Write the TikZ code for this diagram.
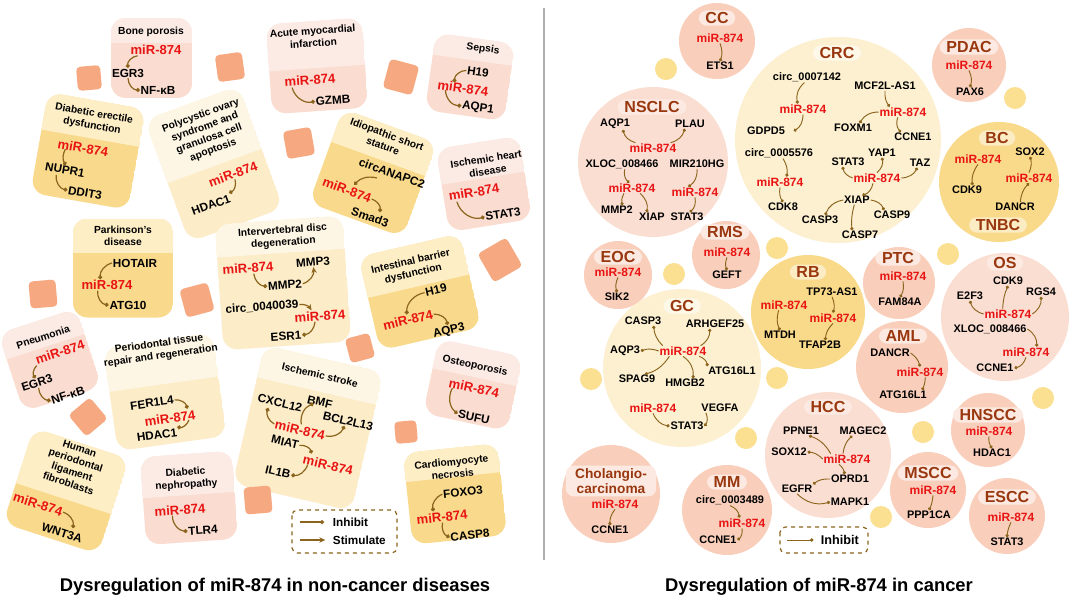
\documentclass[tikz,border=0pt]{standalone}
\usepackage{fontspec}
\setmainfont{Liberation Sans}
\usetikzlibrary{arrows.meta}

\definecolor{mirred}{RGB}{232,20,20}
\definecolor{arrowc}{RGB}{139,101,30}
\definecolor{pinktop}{RGB}{252,235,229}
\definecolor{pinkbot}{RGB}{250,221,208}
\definecolor{ltyeltop}{RGB}{254,246,228}
\definecolor{ltyelbot}{RGB}{252,236,200}
\definecolor{dkyeltop}{RGB}{253,238,198}
\definecolor{dkyelbot}{RGB}{249,218,140}
\definecolor{sqorange}{RGB}{246,168,128}
\definecolor{cpink}{RGB}{249,207,187}
\definecolor{cpinklt}{RGB}{251,222,210}
\definecolor{cyellt}{RGB}{253,240,208}
\definecolor{cyeldk}{RGB}{249,217,138}
\definecolor{dotyel}{RGB}{251,224,145}
\definecolor{titlebrown}{RGB}{153,55,15}
\definecolor{pillpink}{RGB}{252,234,226}
\definecolor{pillyel}{RGB}{254,248,232}
\definecolor{pilldk}{RGB}{252,236,196}
\definecolor{divgray}{RGB}{175,175,175}

\tikzset{
  mir/.style={text=mirred,font=\bfseries\fontsize{9.8}{11}\selectfont,inner sep=0.5pt},
  gene/.style={font=\bfseries\fontsize{8.8}{10}\selectfont,inner sep=0.5pt},
  ttl/.style={font=\bfseries\fontsize{7.7}{9.2}\selectfont,align=center,inner sep=0.5pt},
  cmir/.style={text=mirred,font=\bfseries\fontsize{9}{10}\selectfont,inner sep=0.5pt},
  cgene/.style={font=\bfseries\fontsize{8.2}{9.5}\selectfont,inner sep=0.5pt},
  ctitle/.style={text=titlebrown,font=\bfseries\fontsize{12}{11.5}\selectfont,rounded corners=6pt,inner xsep=5pt,inner ysep=1.5pt,align=center},
  inh/.style={draw=arrowc,line width=0.9pt,-{Circle[length=3pt]}},
  stim/.style={draw=arrowc,line width=0.9pt,-{Stealth[length=4.5pt,width=4pt]}},
  cinh/.style={draw=arrowc,line width=0.7pt,-{Circle[length=2.4pt]}},
  sqbox/.style={fill=sqorange,rounded corners=3pt},
  legbox/.style={draw=arrowc,dashed,line width=0.9pt,rounded corners=4pt},
  legtxt/.style={font=\bfseries\fontsize{8.8}{10}\selectfont,inner sep=0.5pt},
  bigtitle/.style={font=\bfseries\fontsize{13.8}{16}\selectfont}
}

% card: centre x, centre y, angle, width, height, split, top colour, bottom colour
\newcommand{\card}[8]{%
  \begin{scope}[shift={(#1,#2)},rotate=#3]
    \clip[rounded corners=11pt] (-#4/2,-#5/2) rectangle (#4/2,#5/2);
    \fill[#8] (-#4/2,-#5/2) rectangle (#4/2,#5/2);
    \fill[#7] (-#4/2,-#5/2) rectangle (#4/2,#6);
  \end{scope}}

\begin{document}
\begin{tikzpicture}[x=0.75pt,y=-0.75pt]
\useasboundingbox (0,0) rectangle (1072,601);
\fill[white] (0,0) rectangle (1072,601);

% divider
\draw[divgray,line width=0.8pt] (544,8) -- (544,560);

% ===== non-cancer cards
\card{151.5}{58}{0}{81}{80}{-15}{pinktop}{pinkbot}
\card{317}{66}{4}{96}{90}{2}{pinktop}{pinkbot}
\card{470}{77}{-8}{80}{78}{-17}{pinktop}{pinkbot}
\card{88}{151}{-10}{99}{102}{-13}{dkyeltop}{dkyelbot}
\card{214}{164}{20}{100}{130}{2}{ltyeltop}{ltyelbot}
\card{373}{173}{-20}{100}{100}{-15}{dkyeltop}{dkyelbot}
\card{484}{184}{9}{84}{84}{-6}{pinktop}{pinkbot}
\card{123}{268}{0}{100}{99}{-15}{dkyeltop}{dkyelbot}
\card{283}{283}{4}{128}{126}{-30}{ltyeltop}{ltyelbot}
\card{420}{292}{13}{104}{96}{-6}{dkyeltop}{dkyelbot}
\card{50}{360}{18}{82}{82}{-14}{pinktop}{pinkbot}
\card{165}{392}{8}{110}{104}{-8}{ltyeltop}{ltyelbot}
\card{308}{428}{-13}{122}{142}{-38}{ltyeltop}{ltyelbot}
\card{473}{385}{-12}{86}{76}{-8}{pinktop}{pinkbot}
\card{66}{491}{-18}{100}{100}{8}{dkyeltop}{dkyelbot}
\card{189}{498}{4}{92}{88}{-3}{pinktop}{pinkbot}
\card{455}{494}{6}{95}{92}{-17}{dkyeltop}{dkyelbot}

% orange squares
\foreach \x/\y/\s/\a in {89/78/24/5, 230/67/27/8, 299/143/28/10, 401/77/30/-15,
    43/294/27/5, 197/300/29/15, 500/260/33/30, 360/348/25/15, 88/417/28/40,
    258/500/27/5, 406/432/22/5}
  \fill[sqbox,shift={(\x,\y)},rotate=\a] (-\s/2,-\s/2) rectangle (\s/2,\s/2);

% Bone porosis
\node[ttl] (bpt) at (151,32) {Bone porosis};
\node[mir] (bpm) at (156,50) {miR-874};
\node[gene] (bpe) at (128,73) {EGR3};
\node[gene] (bpn) at (158,90) {NF-κB};
\draw[inh] ([xshift=6pt]bpm.south west) to[bend right=45] (bpe.north);
\draw[inh] (bpe.south) to[bend right=45] (bpn.west);

% Acute myocardial infarction
\begin{scope}[every node/.append style={rotate=4}]
\node[ttl] (amt) at (313,37) {Acute myocardial\\infarction};
\node[mir] (amm) at (310,80) {miR-874};
\node[gene] (amg) at (333,100) {GZMB};
\end{scope}
\draw[inh] ([xshift=6pt]amm.south west) to[bend right=45] (amg.west);

% Sepsis
\begin{scope}[every node/.append style={rotate=-8}]
\node[ttl] (set) at (483,49) {Sepsis};
\node[gene] (seh) at (478,72) {H19};
\node[mir] (sem) at (463,88) {miR-874};
\node[gene] (sea) at (478,108) {AQP1};
\end{scope}
\draw[inh] (seh.west) to[bend right=45] ([xshift=-7pt]sem.north);
\draw[inh] ([xshift=7pt]sem.south west) to[bend right=45] (sea.west);

% Diabetic erectile dysfunction
\begin{scope}[every node/.append style={rotate=-10}]
\node[ttl] (det) at (93,120) {Diabetic erectile\\dysfunction};
\node[mir] (dem) at (83,148) {miR-874};
\node[gene] (den) at (65,170) {NUPR1};
\node[gene] (ded) at (85,193) {DDIT3};
\end{scope}
\draw[inh] ([xshift=7pt]dem.south west) to[bend right=30] (den.north);
\draw[inh] ([xshift=-6pt]den.south) to[bend right=45] (ded.west);

% Polycystic ovary syndrome
\begin{scope}[every node/.append style={rotate=20}]
\node[ttl] (pct) at (207,133) {Polycystic ovary\\syndrome and\\granulosa cell\\apoptosis};
\node[mir] (pcm) at (233,174) {miR-874};
\node[gene] (pch) at (211,205) {HDAC1};
\end{scope}
\draw[inh] (pcm.south) to[bend left=40] (pch.north east);

% Idiopathic short stature
\begin{scope}[every node/.append style={rotate=-20}]
\node[ttl] (ist) at (385,140) {Idiopathic short\\stature};
\node[gene] (isc) at (392,173) {circANAPC2};
\node[mir] (ism) at (347,190) {miR-874};
\node[gene] (iss) at (370,217) {Smad3};
\end{scope}
\draw[inh] ([xshift=-10pt]isc.south) to[bend right=30] ([xshift=4pt]ism.north);
\draw[inh] (ism.east) to[bend left=40] ([xshift=6pt]iss.north);

% Ischemic heart disease
\begin{scope}[every node/.append style={rotate=9}]
\node[ttl] (iht) at (487,165) {Ischemic heart\\disease};
\node[mir] (ihm) at (474,192) {miR-874};
\node[gene] (ihs) at (503,214) {STAT3};
\end{scope}
\draw[inh] ([xshift=6pt]ihm.south west) to[bend right=45] (ihs.west);

% Parkinson's disease
\node[ttl] (pdt) at (123,236) {Parkinson's\\disease};
\node[gene] (pdh) at (135,263) {HOTAIR};
\node[mir] (pdm) at (107,285) {miR-874};
\node[gene] (pda) at (128,305) {ATG10};
\draw[inh] (pdh.west) to[bend right=40] ([xshift=-5pt]pdm.north);
\draw[inh] ([xshift=-7pt]pdm.south) to[bend right=45] (pda.west);

% Intervertebral disc degeneration
\begin{scope}[every node/.append style={rotate=4}]
\node[ttl] (ivt) at (283,237) {Intervertebral disc\\degeneration};
\node[mir] (ivm) at (248,268) {miR-874};
\node[gene] (ivp3) at (313,262) {MMP3};
\node[gene] (ivp2) at (285,285) {MMP2};
\node[gene] (ivc) at (262,307) {circ\_0040039};
\node[mir] (ivn) at (320,316) {miR-874};
\node[gene] (ive) at (286,336) {ESR1};
\end{scope}
\draw[inh] ([xshift=4pt]ivm.south) to[bend right=40] (ivp2.west);
\draw[stim] (ivp2.east) to[bend right=40] (ivp3.south);
\draw[stim] (ivc.east) to[bend left=30] ([xshift=-6pt]ivn.north);
\draw[inh] ([xshift=-4pt]ivn.south) to[bend left=40] (ive.east);

% Intestinal barrier dysfunction
\begin{scope}[every node/.append style={rotate=13}]
\node[ttl] (ibt) at (412,268) {Intestinal barrier\\dysfunction};
\node[gene] (ibh) at (436,290) {H19};
\node[mir] (ibm) at (408,320) {miR-874};
\node[gene] (iba) at (449,331) {AQP3};
\end{scope}
\draw[inh] (ibh.west) to[bend right=40] (ibm.north);
\draw[inh] (ibm.east) to[bend left=40] (iba.north);

% Pneumonia
\begin{scope}[every node/.append style={rotate=18}]
\node[ttl] (pnt) at (43,337) {Pneumonia};
\node[mir] (pnm) at (60,352) {miR-874};
\node[gene] (pne) at (37,383) {EGR3};
\node[gene] (pnn) at (68,395) {NF-κB};
\end{scope}
\draw[inh] (pnm.south west) to[bend right=40] (pne.north);
\draw[inh] (pne.south) to[bend right=40] (pnn.west);

% Periodontal tissue repair and regeneration
\begin{scope}[every node/.append style={rotate=8}]
\node[ttl] (prt) at (160,350) {Periodontal tissue\\repair and regeneration};
\node[gene] (prf) at (152,403) {FER1L4};
\node[mir] (prm) at (170,418) {miR-874};
\node[gene] (prh) at (157,435) {HDAC1};
\end{scope}
\draw[inh] (prf.east) to[bend left=40] ([xshift=-6pt]prm.north east);
\draw[inh] ([xshift=-6pt]prm.south east) to[bend left=40] (prh.north east);

% Ischemic stroke
\begin{scope}[every node/.append style={rotate=-13}]
\node[ttl] (sst) at (320,375) {Ischemic stroke};
\node[gene] (ssc) at (280,403) {CXCL12};
\node[gene] (ssb) at (320,402) {BMF};
\node[gene] (ssl) at (348,421) {BCL2L13};
\node[mir] (ssm) at (300,430) {miR-874};
\node[gene] (ssa) at (285,442) {MIAT};
\node[mir] (ssn) at (328,465) {miR-874};
\node[gene] (ssi) at (278,472) {IL1B};
\end{scope}
\draw[inh] (ssm.west) to[bend left=40] ([xshift=-8pt]ssc.south);
\draw[inh] (ssm.north) to[bend left=40] ([xshift=6pt]ssb.south west);
\draw[inh] (ssm.east) to[bend right=40] ([xshift=-2pt]ssl.south);
\draw[inh] (ssa.east) to[bend left=40] ([xshift=6pt]ssn.north west);
\draw[inh] ([xshift=5pt]ssn.south west) to[bend left=40] (ssi.east);

% Osteoporosis
\begin{scope}[every node/.append style={rotate=-12}]
\node[ttl] (opt) at (475,366) {Osteoporosis};
\node[mir] (opm) at (474,388) {miR-874};
\node[gene] (ops) at (474,417) {SUFU};
\end{scope}
\draw[inh] ([xshift=4pt]opm.south west) to[bend right=40] (ops.west);

% Human periodontal ligament fibroblasts
\begin{scope}[every node/.append style={rotate=-18}]
\node[ttl] (hpt) at (74,466) {Human\\periodontal\\ligament\\fibroblasts};
\node[mir] (hpm) at (38,504) {miR-874};
\node[gene] (hpw) at (62,533) {WNT3A};
\end{scope}
\draw[inh] (hpm.east) to[bend left=40] ([xshift=7pt]hpw.north);

% Diabetic nephropathy
\begin{scope}[every node/.append style={rotate=4}]
\node[ttl] (dnt) at (186,479) {Diabetic\\nephropathy};
\node[mir] (dnm) at (180,510) {miR-874};
\node[gene] (dnr) at (203,530) {TLR4};
\end{scope}
\draw[inh] ([xshift=-6pt]dnm.south) to[bend right=45] (dnr.west);

% Cardiomyocyte necrosis
\begin{scope}[every node/.append style={rotate=6}]
\node[ttl] (cmt) at (452,468) {Cardiomyocyte\\necrosis};
\node[gene] (cmf) at (463,492) {FOXO3};
\node[mir] (cmm) at (442,517) {miR-874};
\node[gene] (cmc) at (470,535) {CASP8};
\end{scope}
\draw[inh] (cmf.west) to[bend right=40] ([xshift=-6pt]cmm.north);
\draw[inh] (cmm.south) to[bend right=40] (cmc.west);

% legend (left)
\draw[legbox] (292,510) rectangle (397,553);
\node[legtxt,anchor=west] (lgi) at (332,522) {Inhibit};
\node[legtxt,anchor=west] (lgs) at (332,540) {Stimulate};
\coordinate (lgia) at (300,522);
\coordinate (lgsa) at (300,540);
\draw[inh] (lgia) -- ([xshift=-6pt]lgi.west);
\draw[stim] (lgsa) -- ([xshift=-5pt]lgs.west);

\node[bigtitle] (ltitle) at (275,587) {Dysregulation of miR-874 in non-cancer diseases};

% ===== cancer circles
\fill[cpink] (717,41) circle (38);
\fill[cpinklt] (653,162) circle (75);
\fill[cyellt] (838,140) circle (103);
\fill[cpink] (969,65) circle (37);
\fill[cyeldk] (999,182) circle (60);
\fill[cpink] (726,255) circle (34);
\fill[cpink] (618,275) circle (34);
\fill[cyellt] (682,368) circle (79);
\fill[cyeldk] (808,312) circle (57);
\fill[cpink] (899,283) circle (36);
\fill[cpinklt] (1005,317) circle (64);
\fill[cpink] (902,367) circle (46);
\fill[cpinklt] (828,455) circle (63);
\fill[cpink] (727,510) circle (45);
\fill[cpink] (611,494) circle (49);
\fill[cpink] (988,430) circle (37);
\fill[cpink] (928,490) circle (38);
\fill[cpink] (1007,516) circle (38);
\foreach \x/\y in {666/69, 1015/98, 777/248, 674/274, 591/379, 777/378,
    746/438, 948/254, 1043/398, 923/432, 881/517}
  \fill[dotyel] (\x,\y) circle (11);

% CC
\node[ctitle,fill=pillpink] (cct) at (717,18) {CC};
\node[cmir] (ccm) at (720,38) {miR-874};
\node[cgene] (cce) at (720,66) {ETS1};
\draw[cinh] (ccm.south) to[bend left=20] (cce.north);

% NSCLC
\node[ctitle,fill=pillpink] (nst) at (652,107) {NSCLC};
\node[cgene] (nsaqp) at (615,124) {AQP1};
\node[cgene] (nsplau) at (690,124) {PLAU};
\node[cmir] (nsm) at (653,148) {miR-874};
\node[cgene] (nsx) at (622,164) {XLOC\_008466};
\node[cgene] (nsh) at (697,164) {MIR210HG};
\node[cmir] (nsm1) at (632,188) {miR-874};
\node[cmir] (nsm2) at (695,192) {miR-874};
\node[cgene] (nsmmp) at (617,210) {MMP2};
\node[cgene] (nsxiap) at (652,217) {XIAP};
\node[cgene] (nss) at (687,217) {STAT3};
\draw[cinh] ([xshift=5pt]nsm.north west) to[bend left=30] ([xshift=6pt]nsaqp.south);
\draw[cinh] ([xshift=-5pt]nsm.north east) to[bend right=30] ([xshift=-4pt]nsplau.south);
\draw[cinh] ([xshift=2pt]nsx.south) to[bend right=30] ([xshift=-2pt]nsm1.north);
\draw[cinh] (nsh.south) to[bend left=30] ([xshift=-5pt]nsm2.north);
\draw[cinh] ([xshift=-6pt]nsm1.south) to[bend right=20] ([xshift=4pt]nsmmp.north);
\draw[cinh] ([xshift=6pt]nsm1.south) to[bend left=30] ([xshift=-4pt]nsxiap.north);
\draw[cinh] (nsm2.south) to[bend left=30] ([xshift=2pt]nss.north);

% CRC
\node[ctitle,fill=pillyel] (crt) at (837,53) {CRC};
\node[cgene] (crc1) at (807,77) {circ\_0007142};
\node[cgene] (crmcf) at (885,86) {MCF2L-AS1};
\node[cmir] (crm1) at (803,109) {miR-874};
\node[cmir] (crm2) at (903,112) {miR-874};
\node[cgene] (crg) at (766,131) {GDPD5};
\node[cgene] (crf) at (853,128) {FOXM1};
\node[cgene] (crcc) at (913,137) {CCNE1};
\node[cgene] (crc2) at (779,153) {circ\_0005576};
\node[cmir] (crm3) at (780,182) {miR-874};
\node[cgene] (crk) at (783,207) {CDK8};
\node[cgene] (crs) at (848,162) {STAT3};
\node[cgene] (cry) at (882,153) {YAP1};
\node[cgene] (crtaz) at (920,163) {TAZ};
\node[cmir] (crm4) at (877,178) {miR-874};
\node[cgene] (crx) at (857,200) {XIAP};
\node[cgene] (crp3) at (820,220) {CASP3};
\node[cgene] (crp9) at (892,215) {CASP9};
\node[cgene] (crp7) at (860,235) {CASP7};
\draw[cinh] ([xshift=-2pt]crc1.south) to[bend right=30] ([xshift=-4pt]crm1.north);
\draw[cinh] (crm1.south) to[bend left=30] ([xshift=6pt]crg.east);
\draw[cinh] (crmcf.south) to[bend right=20] ([xshift=-10pt]crm2.north);
\draw[cinh] (crm2.west) to[bend right=30] ([xshift=5pt]crf.north);
\draw[cinh] ([xshift=-4pt]crm2.south) to[bend right=30] ([xshift=-9pt]crcc.north);
\draw[cinh] ([xshift=3pt]crc2.south) to[bend left=20] ([xshift=5pt]crm3.north);
\draw[cinh] (crm3.south) to[bend right=20] (crk.north);
\draw[cinh] (crm4.west) to[bend left=30] ([xshift=-4pt]crs.south);
\draw[cinh] (crm4.north) to[bend right=30] (cry.south);
\draw[cinh] (crm4.east) to[bend right=30] ([xshift=-2pt]crtaz.south);
\draw[cinh] ([xshift=-3pt]crm4.south) to[bend left=30] ([xshift=4pt]crx.north);
\draw[cinh] (crx.west) to[bend right=30] ([xshift=4pt]crp3.north);
\draw[cinh] (crx.east) to[bend left=30] ([xshift=-6pt]crp9.north);
\draw[cinh] ([xshift=-2pt]crx.south) to[bend right=10] ([xshift=-6pt]crp7.north);

% PDAC
\node[ctitle,fill=pillpink] (pdat) at (969,47) {PDAC};
\node[cmir] (pdam) at (969,65) {miR-874};
\node[cgene] (pdap) at (970,92) {PAX6};
\draw[cinh] (pdam.south) to[bend left=20] (pdap.north);

% BC / TNBC
\node[ctitle,fill=pilldk] (bct) at (997,138) {BC};
\node[cmir] (bcm1) at (978,159) {miR-874};
\node[cgene] (bck) at (967,190) {CDK9};
\node[cgene] (bcs) at (1030,152) {SOX2};
\node[cmir] (bcm2) at (1029,178) {miR-874};
\node[cgene] (bcd) at (1015,207) {DANCR};
\node[ctitle,fill=pilldk] (tnt) at (998,225) {TNBC};
\draw[cinh] (bcm1.south) to[bend right=20] ([xshift=4pt]bck.north);
\draw[cinh] (bcm2.north) to[bend right=20] (bcs.south);
\draw[cinh] ([xshift=4pt]bcd.north) to[bend left=20] (bcm2.south);

% RMS
\node[ctitle,fill=pillpink] (rmt) at (725,232) {RMS};
\node[cmir] (rmm) at (727,252) {miR-874};
\node[cgene] (rmg) at (727,275) {GEFT};
\draw[cinh] (rmm.south) to[bend right=20] (rmg.north);

% EOC
\node[ctitle,fill=pillpink] (eot) at (618,257) {EOC};
\node[cmir] (eom) at (618,272) {miR-874};
\node[cgene] (eos) at (617,297) {SIK2};
\draw[cinh] (eom.south) to[bend right=20] (eos.north);

% GC
\node[ctitle,fill=pillyel] (gct) at (682,306) {GC};
\node[cgene] (gcc) at (643,321) {CASP3};
\node[cgene] (gcr) at (715,324) {ARHGEF25};
\node[cgene] (gca) at (625,351) {AQP3};
\node[cmir] (gcm) at (683,351) {miR-874};
\node[cgene] (gcg) at (732,371) {ATG16L1};
\node[cgene] (gcs) at (637,379) {SPAG9};
\node[cgene] (gch) at (685,383) {HMGB2};
\node[cmir] (gcn) at (653,408) {miR-874};
\node[cgene] (gcv) at (720,408) {VEGFA};
\node[cgene] (gct3) at (687,426) {STAT3};
\draw[cinh] ([xshift=3pt]gcm.north west) to[bend left=20] ([xshift=8pt]gcc.south);
\draw[cinh] ([xshift=-5pt]gcm.north east) to[bend right=30] ([xshift=-4pt]gcr.south);
\draw[cinh] (gcm.west) to[bend right=20] (gca.east);
\draw[cinh] ([xshift=-6pt]gcm.south east) to[bend left=30] (gcg.north west);
\draw[cinh] ([xshift=8pt]gcm.south west) to[bend left=20] ([xshift=6pt]gcs.north);
\draw[cinh] (gcm.south) to[bend left=30] ([xshift=6pt]gch.north);
\draw[cinh] (gcn.south) to[bend right=30] (gct3.west);
\draw[cinh] ([xshift=4pt]gcv.south west) to[bend left=30] (gct3.east);

% RB
\node[ctitle,fill=pilldk] (rbt) at (808,272) {RB};
\node[cgene] (rbp) at (832,292) {TP73-AS1};
\node[cmir] (rbm1) at (784,305) {miR-874};
\node[cmir] (rbm2) at (833,318) {miR-874};
\node[cgene] (rbd) at (780,335) {MTDH};
\node[cgene] (rbf) at (820,345) {TFAP2B};
\draw[cinh] (rbp.south) to[bend left=20] (rbm2.north);
\draw[cinh] ([xshift=-4pt]rbm1.south) to[bend right=20] (rbd.north);
\draw[cinh] (rbm2.south) to[bend right=20] ([xshift=4pt]rbf.north);

% PTC
\node[ctitle,fill=pillpink] (ptt) at (898,258) {PTC};
\node[cmir] (ptm) at (903,276) {miR-874};
\node[cgene] (ptf) at (900,302) {FAM84A};
\draw[cinh] (ptm.south) to[bend left=20] (ptf.north);

% OS
\node[ctitle,fill=pillpink] (ost) at (1005,263) {OS};
\node[cgene] (osk) at (1008,281) {CDK9};
\node[cgene] (ose) at (970,296) {E2F3};
\node[cgene] (osr) at (1041,292) {RGS4};
\node[cmir] (osm1) at (1008,314) {miR-874};
\node[cgene] (osx) at (990,329) {XLOC\_008466};
\node[cmir] (osm2) at (1026,352) {miR-874};
\node[cgene] (osc) at (995,368) {CCNE1};
\draw[cinh] ([xshift=-4pt]osm1.north) to[bend left=10] (osk.south);
\draw[cinh] (osm1.west) to[bend left=30] (ose.south);
\draw[cinh] (osm1.east) to[bend right=30] (osr.south);
\draw[cinh] (osx.east) to[bend left=30] ([xshift=8pt]osm2.north);
\draw[cinh] (osm2.south) to[bend left=30] (osc.east);

% AML
\node[ctitle,fill=pillpink] (amlt) at (903,336) {AML};
\node[cgene] (amld) at (890,353) {DANCR};
\node[cmir] (amlm) at (920,372) {miR-874};
\node[cgene] (amla) at (903,395) {ATG16L1};
\draw[cinh] (amld.east) to[bend left=20] (amlm.north);
\draw[cinh] ([xshift=4pt]amlm.south) to[bend left=10] ([xshift=-4pt]amla.north east);

% HCC
\node[ctitle,fill=pillpink] (hct) at (828,407) {HCC};
\node[cgene] (hcp) at (801,431) {PPNE1};
\node[cgene] (hcg) at (863,431) {MAGEC2};
\node[cgene] (hcs) at (789,452) {SOX12};
\node[cmir] (hcm) at (847,459) {miR-874};
\node[cgene] (hco) at (850,479) {OPRD1};
\node[cgene] (hce) at (797,489) {EGFR};
\node[cgene] (hck) at (850,502) {MAPK1};
\draw[cinh] ([xshift=6pt]hcm.north west) to[bend right=20] ([xshift=6pt]hcp.south);
\draw[cinh] ([xshift=-3pt]hcm.north) to[bend left=20] ([xshift=-8pt]hcg.south);
\draw[cinh] (hcm.west) to[bend right=20] (hcs.east);
\draw[cinh] ([xshift=-6pt]hcm.south) to[bend left=20] ([xshift=-4pt]hco.north);
\draw[cinh] (hco.west) to[bend right=20] (hce.north east);
\draw[cinh] (hce.south) to[bend right=30] (hck.west);

% MM
\node[ctitle,fill=pillpink] (mmt) at (727,482) {MM};
\node[cgene] (mmc) at (730,500) {circ\_0003489};
\node[cmir] (mmm) at (742,523) {miR-874};
\node[cgene] (mmn) at (718,540) {CCNE1};
\draw[cinh] (mmc.south) to[bend left=30] ([xshift=-2pt]mmm.north);
\draw[cinh] (mmm.south) to[bend left=30] (mmn.east);

% Cholangiocarcinoma
\node[ctitle,fill=pillpink,font=\bfseries\fontsize{10.3}{11.5}\selectfont,inner xsep=7pt,inner ysep=2pt] (cht) at (611,481) {Cholangio-\\carcinoma};
\node[cmir] (chm) at (615,504) {miR-874};
\node[cgene] (chc) at (610,530) {CCNE1};
\draw[cinh] (chm.south) to[bend right=20] (chc.north);

% HNSCC
\node[ctitle,fill=pillpink] (hnt) at (988,415) {HNSCC};
\node[cmir] (hnm) at (989,431) {miR-874};
\node[cgene] (hnh) at (992,453) {HDAC1};
\draw[cinh] (hnm.south) to[bend right=20] (hnh.north);

% MSCC
\node[ctitle,fill=pillpink] (mst) at (928,473) {MSCC};
\node[cmir] (msm) at (933,490) {miR-874};
\node[cgene] (msp) at (929,515) {PPP1CA};
\draw[cinh] (msm.south) to[bend left=10] (msp.north);

% ESCC
\node[ctitle,fill=pillpink] (est) at (1007,497) {ESCC};
\node[cmir] (esm) at (1011,517) {miR-874};
\node[cgene] (ess) at (1007,542) {STAT3};
\draw[cinh] (esm.south) to[bend right=10] (ess.north);

% legend (right)
\draw[legbox] (780,527) rectangle (868,553);
\node[legtxt,anchor=west,font=\bfseries\fontsize{9.5}{11}\selectfont] (rgi) at (820,540) {Inhibit};
\coordinate (rgia) at (787,540);
\draw[cinh] (rgia) -- ([xshift=-5pt]rgi.west);

\node[bigtitle] (rtitle) at (819,587) {Dysregulation of miR-874 in cancer};
\end{tikzpicture}
\end{document}
